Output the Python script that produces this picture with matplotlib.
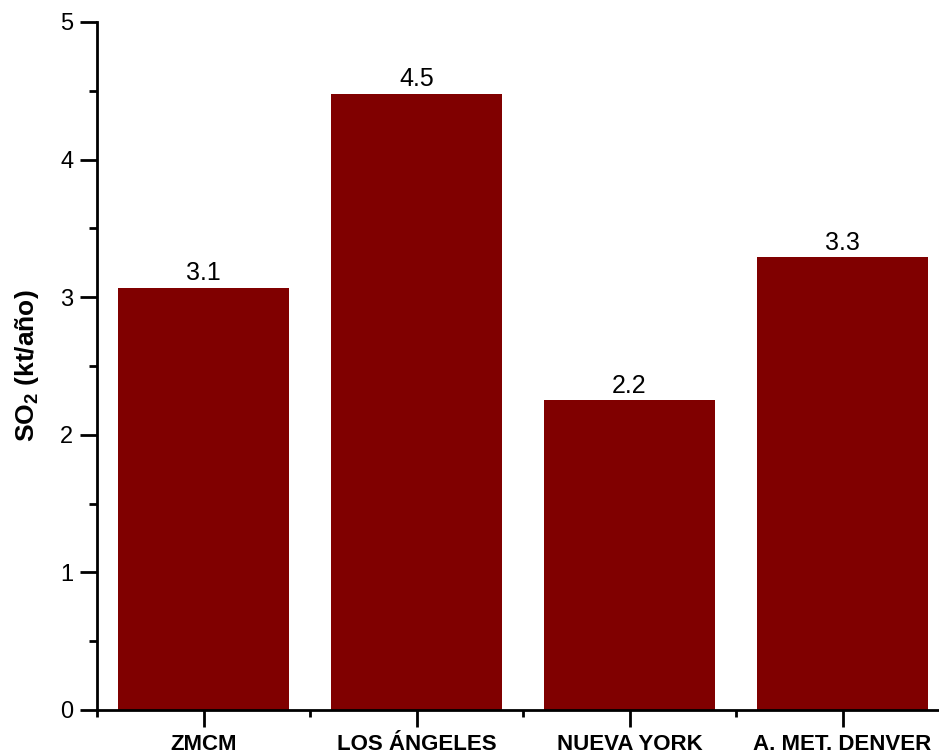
import numpy as np
import matplotlib.pyplot as plt
from matplotlib.ticker import MultipleLocator

plt.rcParams['font.family'] = ['Liberation Sans', 'DejaVu Sans']
plt.rcParams['mathtext.default'] = 'regular'

ciudades = ["ZMCM", "LOS ÁNGELES", "NUEVA YORK", "A. MET. DENVER"]
so2 = [3.07, 4.48, 2.25, 3.29]
etiquetas = ["3.1", "4.5", "2.2", "3.3"]

W, H = 939, 752
fig = plt.figure(figsize=(W / 100, H / 100), dpi=100)
ax = fig.add_axes([97 / W, (H - 710) / H, 852 / W, 688 / H])

x = np.arange(len(ciudades))
barras = ax.bar(x, so2, width=0.8, color="#800000")
for b, t in zip(barras, etiquetas):
    ax.text(b.get_x() + b.get_width() / 2, b.get_height() + 0.02, t,
            ha="center", va="bottom", fontsize=18)

ax.set_xlim(-0.5, 3.5)
ax.set_ylim(0, 5)
ax.set_xticks(x)
ax.set_xticklabels(ciudades, fontsize=16, fontweight="bold")
ax.xaxis.set_minor_locator(MultipleLocator(1, offset=0.5))
ax.yaxis.set_major_locator(MultipleLocator(1))
ax.yaxis.set_minor_locator(MultipleLocator(0.5))
ax.tick_params(axis="y", labelsize=17)
ax.tick_params(which="major", direction="out", length=12, width=2, pad=5)
ax.tick_params(which="minor", direction="out", length=6, width=2)
ax.tick_params(axis="x", which="minor", length=5)

for lado in ["top", "right"]:
    ax.spines[lado].set_visible(False)
for lado in ["left", "bottom"]:
    ax.spines[lado].set_linewidth(2)

ax.set_ylabel("SO$_2$ (kt/año)", fontsize=19, fontweight="bold", labelpad=14)

fig.savefig("out.png", dpi=100)
